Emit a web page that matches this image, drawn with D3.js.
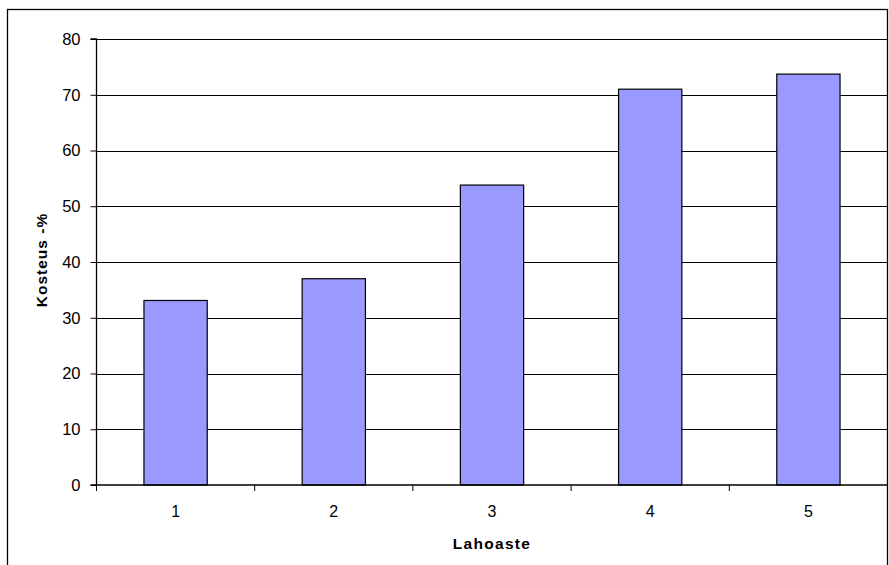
<!DOCTYPE html>
<html>
<head>
<meta charset="utf-8">
<script src="https://cdn.jsdelivr.net/npm/d3@7"></script>
<style>
  html, body { margin: 0; padding: 0; background: #fff; }
  svg { display: block; font-family: "Liberation Sans", Arial, sans-serif; }
</style>
</head>
<body>
<svg id="chart" width="889" height="565"></svg>
<script>
// Moisture content by sample
const categories = ["1", "2", "3", "4", "5"];
const values = [33.1, 37.0, 53.8, 71.0, 73.7];
const yTicks = [0, 10, 20, 30, 40, 50, 60, 70, 80];
const yLabel = "Kosteus -%";
const xLabel = "Lahoaste";

const svg = d3.select("#chart");
const plotLeft = 96.5, plotRight = 887.5, plotTop = 39, plotBottom = 485;

// outer chart frame
svg.append("rect")
  .attr("x", 7.5).attr("y", 9.5)
  .attr("width", 880).attr("height", 570)
  .attr("fill", "none").attr("stroke", "#000").attr("stroke-width", 1.3);

const x = d3.scaleBand().domain(categories).range([plotLeft, plotRight]).paddingInner(0.6).paddingOuter(0.3);
const xOuter = d3.scaleBand().domain(categories).range([plotLeft, plotRight]);
const y = d3.scaleLinear().domain([0, 80]).range([plotBottom, plotTop]);

// horizontal gridlines
svg.append("g").selectAll("line").data(yTicks.filter(d => d > 0)).join("line")
  .attr("x1", plotLeft).attr("x2", plotRight)
  .attr("y1", d => Math.round(y(d)) + 0.5).attr("y2", d => Math.round(y(d)) + 0.5)
  .attr("stroke", "#000").attr("stroke-width", 1);

// bars
svg.append("g").selectAll("rect").data(values).join("rect")
  .attr("x", (d, i) => x(categories[i]))
  .attr("width", x.bandwidth())
  .attr("y", d => y(d))
  .attr("height", d => y(0) - y(d))
  .attr("fill", "#9999FF")
  .attr("stroke", "#000").attr("stroke-width", 1.2);

// y axis
const yAxis = d3.axisLeft(y).tickValues(yTicks).tickSize(6).tickPadding(10).tickFormat(d3.format("d"));
const gy = svg.append("g").attr("transform", `translate(${plotLeft},0)`).call(yAxis);
gy.select(".domain").attr("stroke", "#000").attr("stroke-width", 1.3).attr("d", `M-6,${plotTop}H0V${plotBottom}`);
gy.selectAll(".tick line").attr("stroke", "#000");
gy.selectAll("text").attr("font-size", 16.5).attr("fill", "#000")
  .attr("font-family", "Liberation Sans, Arial, sans-serif");

// x axis with ticks at category boundaries
const gx = svg.append("g").attr("transform", `translate(0,${plotBottom})`);
gx.append("line").attr("x1", plotLeft - 6).attr("x2", plotRight)
  .attr("y1", 0).attr("y2", 0).attr("stroke", "#000").attr("stroke-width", 1.5);
const boundaries = categories.map(c => xOuter(c)).concat([plotRight]);
gx.selectAll("line.tk").data(boundaries).join("line").attr("class", "tk")
  .attr("x1", d => d).attr("x2", d => d).attr("y1", 0).attr("y2", 6)
  .attr("stroke", "#000");
gx.selectAll("text").data(categories).join("text")
  .attr("x", d => xOuter(d) + xOuter.bandwidth() / 2)
  .attr("y", 31.5)
  .attr("text-anchor", "middle")
  .attr("font-size", 16).attr("fill", "#000")
  .text(d => d);

// axis titles
svg.append("text")
  .attr("x", (plotLeft + plotRight) / 2).attr("y", 548.5)
  .attr("text-anchor", "middle")
  .attr("font-size", 15.5).attr("font-weight", "bold").attr("letter-spacing", 1.3)
  .text(xLabel);
svg.append("text")
  .attr("transform", `translate(47,${(plotTop + plotBottom) / 2 - 2}) rotate(-90)`)
  .attr("text-anchor", "middle")
  .attr("font-size", 15.5).attr("font-weight", "bold").attr("letter-spacing", 1)
  .text(yLabel);
</script>
</body>
</html>
